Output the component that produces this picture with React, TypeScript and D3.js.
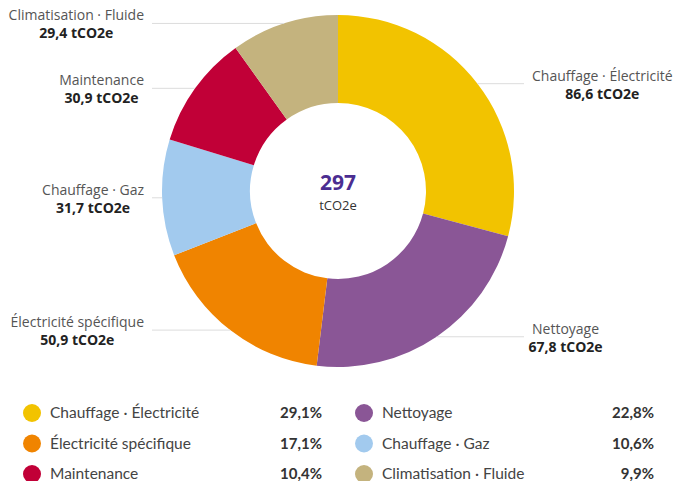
import * as d3 from "d3";
import { useEffect, useRef } from "react";

const width = 679;
const height = 481;

const categories = [
  "Chauffage · Électricité",
  "Nettoyage",
  "Électricité spécifique",
  "Chauffage · Gaz",
  "Maintenance",
  "Climatisation · Fluide",
];
const values = [86.6, 67.8, 50.9, 31.7, 30.9, 29.4];
const shares = ["29,1%", "22,8%", "17,1%", "10,6%", "10,4%", "9,9%"];
const colors = ["#f2c300", "#8a5696", "#f08400", "#a2caee", "#c10037", "#c4b37e"];
const totalLabel = "297";
const unit = "tCO2e";

const center = { x: 338, y: 191 };
const outerRadius = 176;
const innerRadius = 88;

const labelFont = "'Open Sans', 'Noto Sans', sans-serif";
const legendFont = "Lato, 'Noto Sans', sans-serif";

const fmt = (v: number) => v.toFixed(1).replace(".", ",") + " " + unit;

export default function App() {
  const svgRef = useRef<SVGSVGElement | null>(null);

  useEffect(() => {
    if (!svgRef.current) return;
    const svg = d3.select(svgRef.current);
    svg.selectAll("*").remove();

    const rows = categories.map((name, i) => ({ name, value: values[i], share: shares[i], color: colors[i] }));

    const pie = d3
      .pie<(typeof rows)[number]>()
      .sort(null)
      .value((d) => d.value);
    const arc = d3
      .arc<d3.PieArcDatum<(typeof rows)[number]>>()
      .innerRadius(innerRadius)
      .outerRadius(outerRadius);
    const arcs = pie(rows);

    const g = svg.append("g").attr("transform", `translate(${center.x}, ${center.y})`);

    g.selectAll("path.slice")
      .data(arcs)
      .join("path")
      .attr("class", "slice")
      .attr("d", arc)
      .attr("fill", (d) => d.data.color);

    // leader lines + labels
    const labels = g.append("g");
    arcs.forEach((d) => {
      const mid = (d.startAngle + d.endAngle) / 2;
      const px = outerRadius * Math.sin(mid);
      const py = -outerRadius * Math.cos(mid);
      const right = px >= 0;
      const endX = right ? outerRadius + 10 : -(outerRadius + 10);

      labels
        .append("line")
        .attr("x1", px)
        .attr("y1", py)
        .attr("x2", endX)
        .attr("y2", py)
        .attr("stroke", "#dcdcdc")
        .attr("stroke-width", 1);

      const block = labels.append("g");
      const nameText = block
        .append("text")
        .attr("y", py - 3)
        .attr("text-anchor", "middle")
        .attr("fill", "#555")
        .style("font-family", labelFont)
        .style("font-size", "14px")
        .text(d.data.name);
      block
        .append("text")
        .attr("y", py + 15)
        .attr("text-anchor", "middle")
        .attr("fill", "#222")
        .style("font-family", labelFont)
        .style("font-size", "14px")
        .style("font-weight", "700")
        .text(fmt(d.data.value));

      const w = (nameText.node() as SVGTextElement).getComputedTextLength();
      const cx = right ? endX + 8 + w / 2 : endX - 8 - w / 2;
      block.selectAll("text").attr("x", cx);
    });

    g.append("text")
      .attr("y", -1)
      .attr("text-anchor", "middle")
      .attr("fill", "#4b2d91")
      .style("font-family", labelFont)
      .style("font-size", "21px")
      .style("font-weight", "700")
      .text(totalLabel);
    g.append("text")
      .attr("y", 19)
      .attr("text-anchor", "middle")
      .attr("fill", "#333")
      .style("font-family", labelFont)
      .style("font-size", "13px")
      .text(unit);

    // legend, two columns filled row by row
    const colX = [32, 364];
    const pctX = [322, 654];
    const rowY = d3.scalePoint<number>().domain([0, 1, 2]).range([413, 474]);

    const legend = svg.append("g");
    const items = legend
      .selectAll("g")
      .data(rows)
      .join("g")
      .attr("transform", (_, i) => `translate(${colX[i % 2]}, ${rowY(Math.floor(i / 2))})`);

    items
      .append("circle")
      .attr("r", 9)
      .attr("fill", (d) => d.color);
    items
      .append("text")
      .attr("x", 18)
      .attr("y", 5)
      .attr("fill", "#444")
      .style("font-family", legendFont)
      .style("font-size", "15.5px")
      .text((d) => d.name);
    items
      .append("text")
      .attr("x", (_, i) => pctX[i % 2] - colX[i % 2])
      .attr("y", 5)
      .attr("text-anchor", "end")
      .attr("fill", "#333")
      .style("font-family", legendFont)
      .style("font-size", "15px")
      .style("font-weight", "700")
      .text((d) => d.share);
  }, []);

  return (
    <svg
      ref={svgRef}
      width={width}
      height={height}
      style={{ position: "absolute", left: 0, top: 0, background: "#fff" }}
    />
  );
}
